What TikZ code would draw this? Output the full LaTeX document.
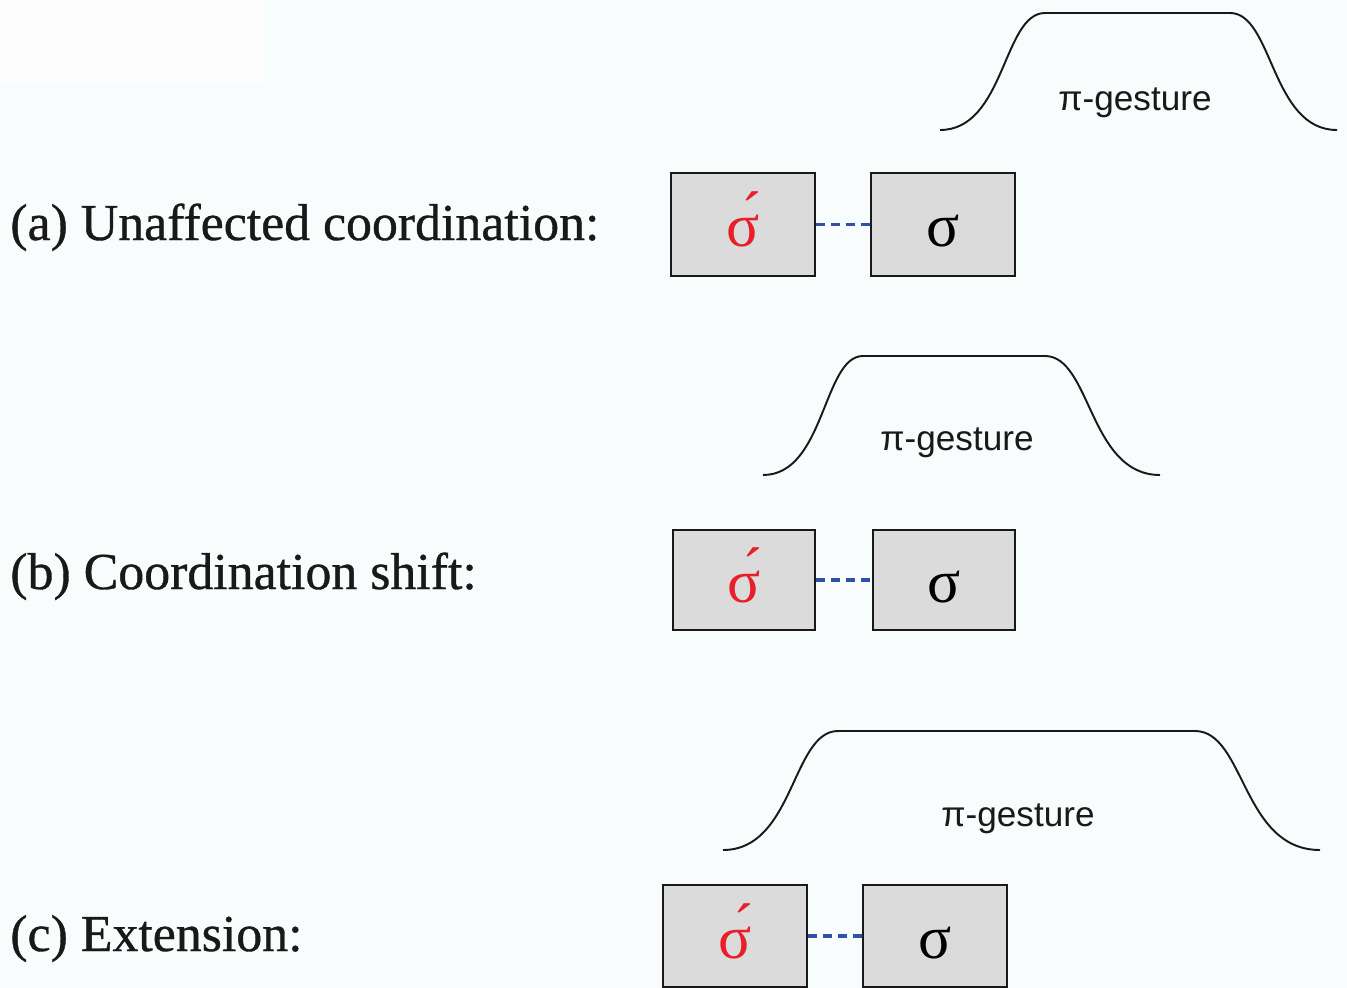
\documentclass[tikz,border=0pt]{standalone}
\usepackage{fontspec}
\setmainfont{Liberation Serif}
\newfontfamily\gestfont{Liberation Sans}
\newfontface\condfont[FakeBold=0.7]{Liberation Serif}
\definecolor{bgc}{RGB}{248,252,252}
\definecolor{patch}{RGB}{253,253,253}
\definecolor{boxfill}{RGB}{220,219,220}
\definecolor{sigred}{RGB}{232,30,40}
\definecolor{dashblue}{RGB}{50,80,170}
\definecolor{ink}{RGB}{25,25,25}
\begin{document}
\begin{tikzpicture}[x=0.02cm,y=-0.02cm,
  sylbox/.style={draw=ink, line width=1.4pt, fill=boxfill, inner sep=0pt,
    minimum width=2.88cm, minimum height=2.06cm,
    text height=25.5pt, text depth=0pt, font=\fontsize{35}{35}\selectfont},
  link/.style={dashblue, line width=2.2pt, dash pattern=on 5pt off 3.5pt},
  hump/.style={ink, line width=1.1pt},
  gest/.style={anchor=base, inner sep=0pt, text=ink, font=\gestfont\fontsize{20}{24}\selectfont},
  cond/.style={anchor=base west, inner sep=0pt, text=ink, font=\condfont\fontsize{29.5}{34}\selectfont}]
\useasboundingbox (0,0) rectangle (1347,988);
\fill[bgc] (0,0) rectangle (1347,988);
\fill[patch] (0,0) rectangle (265,82);

% (a)
\draw[hump] (940,130) .. controls (1005,130) and (1003,13) .. (1045,13) -- (1230,13)
  .. controls (1273,13) and (1271,130) .. (1337,130);
\node[gest] (ga) at (1135,110) {π-gesture};
\node[cond] (la) at (10,240) {(a) Unaffected coordination:};
\node[sylbox, text=sigred] (a1) at (743,224.5) {σ́};
\node[sylbox] (a2) at (943,224.5) {σ};
\draw[link] (a1) -- (a2);

% (b)
\draw[hump] (763,475) .. controls (825,475) and (823,356) .. (863,356) -- (1045,356)
  .. controls (1091,356) and (1089,475) .. (1160,475);
\node[gest] (gb) at (957,450) {π-gesture};
\node[cond] (lb) at (10,589) {(b) Coordination shift:};
\node[sylbox, minimum width=2.84cm, minimum height=2.0cm, text=sigred] (b1) at (744,580) {σ́};
\node[sylbox, minimum width=2.84cm, minimum height=2.0cm] (b2) at (944,580) {σ};
\draw[link] (b1) -- (b2);

% (c)
\draw[hump] (723,850) .. controls (794,850) and (792,731) .. (838,731) -- (1195,731)
  .. controls (1245,731) and (1242,850) .. (1320,850);
\node[gest] (gc) at (1018,826) {π-gesture};
\node[cond] (lc) at (10,951) {(c) Extension:};
\node[sylbox, minimum height=2.04cm, text=sigred] (c1) at (735,936) {σ́};
\node[sylbox, minimum height=2.04cm] (c2) at (935,936) {σ};
\draw[link] (c1) -- (c2);
\end{tikzpicture}
\end{document}
